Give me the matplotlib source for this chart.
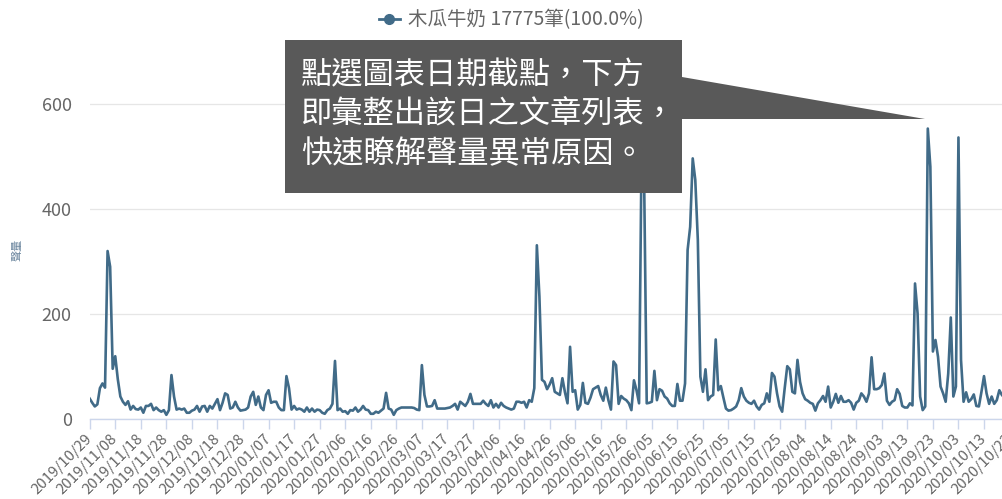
import pandas as pd
import matplotlib.pyplot as plt
from matplotlib.lines import Line2D
from matplotlib.patches import Polygon

plt.rcParams['font.family'] = ['Noto Sans CJK TC', 'DejaVu Sans']

# 資料
start_date = '2019-10-29'
series_name = '木瓜牛奶 17775筆(100.0%)'
y_label = '聲量'
note_text = '點選圖表日期截點，下方\n即彙整出該日之文章列表，\n快速瞭解聲量異常原因。'
y_ticks = [0, 200, 400, 600]

# 每日聲量 (2019/10/29 起)
volume = [
    38, 30, 23, 27, 58, 67, 59, 320, 290, 95, 119, 75, 42, 32, 26, 33, 17, 24, 18, 17,
    21, 11, 24, 24, 28, 16, 21, 16, 13, 16, 7, 16, 83, 42, 17, 19, 17, 19, 11, 11,
    15, 17, 24, 13, 23, 24, 13, 24, 19, 28, 37, 16, 30, 48, 45, 19, 21, 32, 21, 15,
    16, 17, 21, 42, 51, 26, 42, 21, 16, 45, 54, 30, 32, 32, 21, 16, 16, 81, 58, 17,
    24, 17, 19, 17, 13, 21, 13, 19, 13, 17, 16, 11, 9, 16, 19, 28, 110, 16, 19, 13,
    14, 9, 16, 15, 21, 13, 17, 24, 17, 16, 9, 9, 13, 11, 15, 19, 49, 19, 17, 7,
    16, 19, 21, 21, 21, 21, 21, 20, 17, 16, 102, 45, 23, 23, 24, 35, 19, 19, 19, 19,
    20, 21, 24, 28, 17, 32, 28, 24, 32, 47, 28, 28, 28, 28, 34, 28, 24, 35, 21, 28,
    21, 30, 24, 21, 19, 17, 19, 32, 32, 30, 32, 21, 35, 32, 58, 331, 233, 74, 70, 56,
    65, 77, 51, 48, 45, 77, 50, 29, 137, 51, 54, 17, 26, 68, 30, 28, 40, 56, 59, 62,
    45, 34, 59, 35, 17, 109, 102, 28, 43, 38, 35, 29, 16, 73, 54, 29, 520, 450, 29, 30,
    32, 91, 35, 56, 53, 42, 38, 29, 24, 24, 66, 34, 34, 67, 322, 366, 497, 456, 341, 80,
    51, 94, 35, 42, 45, 151, 54, 62, 40, 19, 15, 16, 19, 23, 35, 58, 42, 34, 30, 28,
    34, 23, 17, 26, 29, 48, 32, 87, 80, 48, 23, 13, 58, 100, 94, 51, 48, 112, 70, 48,
    37, 34, 30, 28, 15, 29, 35, 43, 32, 61, 21, 32, 47, 30, 43, 32, 32, 35, 30, 17,
    30, 34, 48, 42, 32, 48, 117, 56, 56, 58, 64, 86, 34, 26, 32, 35, 56, 47, 24, 21,
    21, 29, 25, 258, 201, 42, 16, 23, 554, 481, 128, 150, 118, 61, 48, 32, 86, 193, 42, 61,
    537, 112, 32, 50, 32, 37, 46, 24, 23, 51, 81, 48, 28, 42, 28, 35, 54, 45,
]

dates = pd.date_range(start_date, periods=len(volume), freq='D')
tick_dates = pd.date_range(start_date, periods=37, freq='10D')
tick_labels = [d.strftime('%Y/%m/%d') for d in tick_dates]

line_color = '#416b88'
W, H = 1002, 499


def fig_xy(px, py):
    # 像素座標 -> figure 座標
    return (px / W, 1 - py / H)


fig = plt.figure(figsize=(W / 100, H / 100), dpi=100)
# 右側超出畫面，讓最後一個日期標籤被裁切
ax = fig.add_axes([89.7 / W, 80.5 / H, 940.3 / W, 358.5 / H])

ax.plot(dates, volume, color=line_color, lw=1.9, solid_joinstyle='round')

ax.set_xlim(dates[0], dates[0] + pd.Timedelta(days=368))
ax.set_ylim(0, 685)
ax.set_yticks(y_ticks)
ax.set_xticks(tick_dates)
ax.set_xticklabels(tick_labels, rotation=45, ha='right', va='center',
                   rotation_mode='anchor')

ax.grid(axis='y', color='#e6e6e6', lw=0.9)
ax.set_axisbelow(True)
for side in ['top', 'right', 'left']:
    ax.spines[side].set_visible(False)
ax.spines['bottom'].set_color('#ccd6eb')
ax.spines['bottom'].set_linewidth(1.0)

ax.tick_params(axis='y', length=0, pad=13, labelsize=13, labelcolor='#666666')
ax.tick_params(axis='x', length=7, width=1, color='#ccd6eb', pad=6,
               labelsize=10.8, labelcolor='#666666')

# y 軸標題
fig.text(*fig_xy(18, 250), y_label, rotation=90, ha='center', va='center',
         fontsize=8, color='#6e88a0')

# 圖例
handle = Line2D([], [], color=line_color, lw=2, marker='o', markersize=7)
fig.legend([handle], [series_name], loc='center', bbox_to_anchor=fig_xy(511, 20),
           frameon=False, fontsize=14, labelcolor='#666666',
           handlelength=1.1, handletextpad=0.4)

# 提示框
box_px = [(285, 40), (682, 40), (682, 77), (925, 119), (682, 119), (682, 193), (285, 193)]
box = Polygon([fig_xy(x, y) for x, y in box_px], closed=True,
              transform=fig.transFigure, facecolor='#595959', edgecolor='none', zorder=5)
fig.add_artist(box)
fig.text(*fig_xy(301, 59), note_text, ha='left', va='top', color='white',
         fontsize=22.5, linespacing=1.3, zorder=6)

fig.savefig('out.png', dpi=100)
